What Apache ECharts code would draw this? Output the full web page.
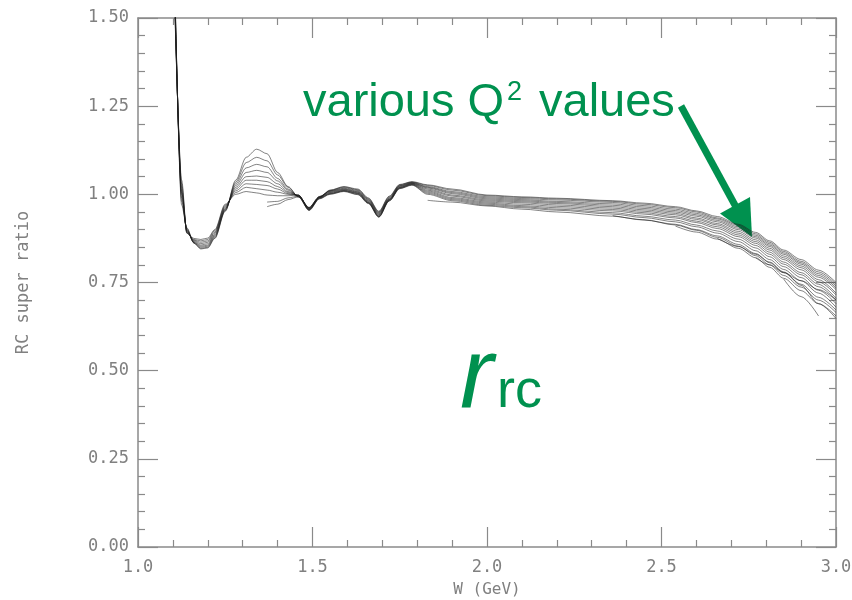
<!DOCTYPE html>
<html>
<head>
<meta charset="utf-8">
<script src="https://cdn.jsdelivr.net/npm/echarts@6/dist/echarts.min.js"></script>
<style>
  html, body { margin: 0; padding: 0; background: #fff; }
  #chart { width: 852px; height: 600px; }
</style>
</head>
<body>
<div id="chart"></div>
<script>
  const _ = null;

  // W grid (GeV) shared by all curves
  const wGrid = [1.105, 1.125, 1.14, 1.16, 1.18, 1.20, 1.22, 1.25,
                 1.28, 1.31, 1.34, 1.37, 1.40, 1.43, 1.46, 1.49,
                 1.52, 1.55, 1.59, 1.63, 1.66, 1.69, 1.72, 1.75, 1.785,
                 1.83, 1.90, 2.00, 2.10, 2.20, 2.36, 2.45, 2.54, 2.60, 2.66, 2.72, 2.77, 2.81, 2.85, 2.90, 2.95, 3.00];

  // RC super ratio, one array per Q^2 value
  const q1 = [1.62, 0.97, 0.905, 0.862, 0.845, 0.848, 0.875, 0.952,
              1.04, 1.105, 1.128, 1.115, 1.062, 1.022, 0.992, 0.958,
              0.99, 1.012, 1.022, 1.015, 0.99, 0.952, 0.995, 1.028, 1.036,
              1.027, 1.015, 0.998, 0.993, 0.989, 0.982, 0.975, 0.965, 0.953, 0.937, 0.915, 0.892, 0.868, 0.842, 0.815, 0.785, 0.75];
  const q2 = [1.61, 0.98, 0.903, 0.862, 0.847, 0.85, 0.877, 0.954,
              1.035, 1.09, 1.105, 1.095, 1.055, 1.02, 0.993, 0.96,
              0.992, 1.011, 1.021, 1.013, 0.988, 0.95, 0.993, 1.027, 1.035,
              1.025, 1.012, 0.996, 0.991, 0.987, 0.98, 0.972, 0.962, 0.95, 0.933, 0.912, 0.888, 0.864, 0.838, 0.81, 0.78, 0.745];
  const q3 = [1.60, 0.99, 0.90, 0.863, 0.85, 0.853, 0.88, 0.956,
              1.03, 1.075, 1.085, 1.078, 1.045, 1.015, 0.994, 0.962,
              0.993, 1.01, 1.019, 1.011, 0.986, 0.948, 0.991, 1.025, 1.034,
              1.022, 1.008, 0.993, 0.988, 0.984, 0.977, 0.968, 0.958, 0.946, 0.93, 0.908, 0.884, 0.86, 0.834, 0.806, 0.775, 0.74];
  const q4 = [1.59, 1.0, 0.898, 0.864, 0.853, 0.856, 0.883, 0.958,
              1.025, 1.062, 1.068, 1.062, 1.038, 1.012, 0.995, 0.963,
              0.994, 1.009, 1.017, 1.009, 0.984, 0.946, 0.989, 1.024, 1.033,
              1.02, 1.005, 0.99, 0.985, 0.98, 0.973, 0.964, 0.954, 0.942, 0.926, 0.904, 0.88, 0.856, 0.83, 0.802, 0.77, 0.735];
  const q5 = [1.58, 1.005, 0.896, 0.866, 0.856, 0.86, 0.886, 0.96,
              1.02, 1.05, 1.052, 1.048, 1.03, 1.008, 0.996, 0.962,
              0.993, 1.008, 1.015, 1.007, 0.982, 0.944, 0.987, 1.023, 1.032,
              1.018, 1.002, 0.987, 0.982, 0.977, 0.969, 0.96, 0.95, 0.938, 0.922, 0.90, 0.876, 0.852, 0.825, 0.797, 0.765, 0.73];
  const q6 = [1.57, 1.01, 0.894, 0.868, 0.86, 0.864, 0.89, 0.963,
              1.015, 1.04, 1.04, 1.036, 1.022, 1.005, 0.997, 0.96,
              0.992, 1.006, 1.014, 1.006, 0.98, 0.942, 0.986, 1.021, 1.031,
              1.015, 0.998, 0.984, 0.979, 0.974, 0.965, 0.956, 0.946, 0.933, 0.917, 0.895, 0.871, 0.847, 0.82, 0.792, 0.758, 0.72];
  const q7 = [1.56, 1.02, 0.892, 0.87, 0.864, 0.868, 0.893, 0.966,
              1.01, 1.03, 1.028, 1.025, 1.015, 1.002, 0.997, 0.958,
              0.991, 1.005, 1.012, 1.004, 0.978, 0.94, 0.985, 1.02, 1.03,
              1.012, 0.995, 0.981, 0.976, 0.97, 0.961, 0.952, 0.942, 0.929, 0.913, 0.89, 0.866, 0.842, 0.815, 0.786, 0.752, 0.715];
  const q8 = [1.55, 1.03, 0.89, 0.872, 0.868, 0.872, 0.897, 0.969,
              1.005, 1.02, 1.016, 1.012, 1.006, 1.0, 0.998, 0.957,
              0.99, 1.003, 1.011, 1.003, 0.977, 0.938, 0.984, 1.019, 1.029,
              1.009, 0.991, 0.978, 0.972, 0.966, 0.957, 0.948, 0.937, 0.924, 0.908, 0.885, 0.861, 0.836, 0.808, 0.778, 0.745, 0.705];
  const q9 = [1.54, 1.04, 0.89, 0.875, 0.872, 0.876, 0.90, 0.972,
              1.0, 1.008, 1.004, 0.998, 0.996, 0.996, 0.998, 0.956,
              0.989, 1.002, 1.01, 1.002, 0.976, 0.937, 0.983, 1.018, 1.028,
              1.006, 0.988, 0.975, 0.968, 0.962, 0.953, 0.944, 0.933, 0.92, 0.903, 0.88, 0.855, 0.83, 0.802, 0.772, 0.738, 0.70];
  const q10 = [_, _, _, _, _, _, _, _,
               _, _, _, 0.965, 0.972, 0.985, 0.993, 0.955,
               0.988, 1.001, 1.009, 1.0, 0.975, 0.936, 0.982, 1.017, 1.027,
               1.003, 0.985, 0.972, 0.965, 0.958, 0.948, 0.938, 0.927, 0.913, 0.896, 0.873, 0.848, 0.823, 0.795, 0.764, 0.728, 0.69];
  const q11 = [_, _, _, _, _, _, _, _,
               _, _, _, 0.978, 0.98, 0.99, 0.995, 0.954,
               0.987, 1.0, 1.008, 0.999, 0.974, 0.935, 0.981, 1.016, 1.026,
               1.0, 0.982, 0.969, 0.962, 0.955, 0.944, 0.934, 0.922, 0.908, 0.89, 0.866, 0.84, 0.815, 0.787, 0.755, 0.72, 0.68];
  const q12 = [_, _, _, _, _, _, _, _,
               _, _, _, _, _, _, _, _,
               _, _, _, _, _, _, _, _, _,
               0.983, 0.978, 0.967, 0.958, 0.95, 0.938, 0.927, 0.915, 0.90, 0.882, 0.858, 0.832, 0.806, 0.778, 0.745, 0.708, 0.672];
  const q13 = [_, _, _, _, _, _, _, _,
               _, _, _, _, _, _, _, _,
               _, _, _, _, _, _, _, _, _,
               _, _, _, _, _, 0.94, 0.928, 0.913, 0.898, 0.878, 0.853, 0.826, 0.80, 0.77, 0.737, 0.70, 0.665];
  const q14 = [_, _, _, _, _, _, _, _,
               _, _, _, _, _, _, _, _,
               _, _, _, _, _, _, _, _, _,
               _, _, _, _, _, _, _, 0.91, 0.893, 0.873, 0.847, 0.82, 0.793, 0.762, 0.727, 0.69, 0.655];
  const q15 = [_, _, _, _, _, _, _, _,
               _, _, _, _, _, _, _, _,
               _, _, _, _, _, _, _, _, _,
               _, _, _, _, _, _, _, _, _, 0.875, 0.852, 0.83, 0.808, 0.78, 0.742, 0.69, 0.648];
  const q16 = [_, _, _, _, _, _, _, _,
               _, _, _, _, _, _, _, _,
               _, _, _, _, _, _, _, _, _,
               _, _, _, _, _, _, _, _, _, _, _, 0.82, 0.80, 0.778, 0.755, 0.73, 0.70];
  const q17 = [_, _, _, _, _, _, _, _,
               _, _, _, _, _, _, _, _,
               _, _, _, _, _, _, _, _, _,
               _, _, _, _, _, _, _, _, _, _, _, _, _, 0.76, 0.71, 0.655, _];

  const curves = [q1, q2, q3, q4, q5, q6, q7, q8, q9, q10, q11, q12, q13, q14, q15, q16, q17];

  const axisGray = '#8a8a8a';
  const labelGray = '#808080';
  const green = '#00914f';
  const monoFont = 'DejaVu Sans Mono';

  function frameAxis(extra) {
    return Object.assign({
      type: 'value',
      axisLine: { show: true, onZero: false, lineStyle: { color: axisGray, width: 1.5 } },
      axisTick: { show: true, inside: true, length: 20, lineStyle: { color: axisGray, width: 1.2 } },
      minorTick: { show: true, splitNumber: 5, length: 7, lineStyle: { color: axisGray, width: 1.2 } },
      splitLine: { show: false },
      minorSplitLine: { show: false }
    }, extra);
  }

  const chart = echarts.init(document.getElementById('chart'));

  chart.setOption({
    animation: false,
    backgroundColor: '#fff',
    grid: { left: 138, right: 16, top: 18, bottom: 53, outerBoundsMode: 'none', containLabel: false },
    xAxis: [
      frameAxis({
        min: 1, max: 3, interval: 0.5, position: 'bottom',
        axisLabel: {
          color: labelGray, fontFamily: monoFont, fontSize: 17, margin: 12,
          formatter: v => v.toFixed(1)
        },
        name: 'W (GeV)',
        nameLocation: 'middle',
        nameGap: 35,
        nameTextStyle: { color: labelGray, fontFamily: monoFont, fontSize: 16 }
      }),
      frameAxis({ min: 1, max: 3, interval: 0.5, position: 'top', axisLabel: { show: false } })
    ],
    yAxis: [
      frameAxis({
        min: 0, max: 1.5, interval: 0.25, position: 'left',
        axisLabel: {
          color: labelGray, fontFamily: monoFont, fontSize: 17, margin: 9,
          formatter: v => v.toFixed(2)
        },
        name: 'RC super ratio',
        nameLocation: 'middle',
        nameGap: 106,
        nameTextStyle: { color: labelGray, fontFamily: monoFont, fontSize: 17 }
      }),
      frameAxis({ min: 0, max: 1.5, interval: 0.25, position: 'right', axisLabel: { show: false } })
    ],
    series: curves.map(vals => ({
      type: 'line',
      xAxisIndex: 0,
      yAxisIndex: 0,
      data: wGrid.map((w, i) => [w, vals[i]]).filter(p => p[1] !== null && p[1] !== undefined),
      smooth: 0.3,
      smoothMonotone: 'x',
      showSymbol: false,
      silent: true,
      clip: true,
      lineStyle: { color: 'rgba(30,30,30,0.55)', width: 1 }
    })),
    graphic: [
      {
        type: 'text', left: 303, top: 80,
        style: { text: 'various Q', fill: green, font: '47px "Liberation Sans"' }
      },
      {
        type: 'text', left: 507, top: 79,
        style: { text: '2', fill: green, font: '27px "Liberation Sans"' }
      },
      {
        type: 'text', left: 539, top: 80,
        style: { text: 'values', fill: green, font: '47px "Liberation Sans"' }
      },
      {
        type: 'line',
        shape: { x1: 681, y1: 106, x2: 736, y2: 207 },
        style: { stroke: green, lineWidth: 7 }
      },
      {
        type: 'polygon',
        shape: { points: [[752, 237], [720, 213.5], [750, 197]] },
        style: { fill: green }
      },
      {
        type: 'text', left: 460, top: 330,
        style: { text: 'r', fill: green, font: 'italic 100px "Liberation Sans"' }
      },
      {
        type: 'text', left: 497, top: 365,
        style: { text: 'rc', fill: green, font: '54px "Liberation Sans"' }
      }
    ]
  });
</script>
</body>
</html>
